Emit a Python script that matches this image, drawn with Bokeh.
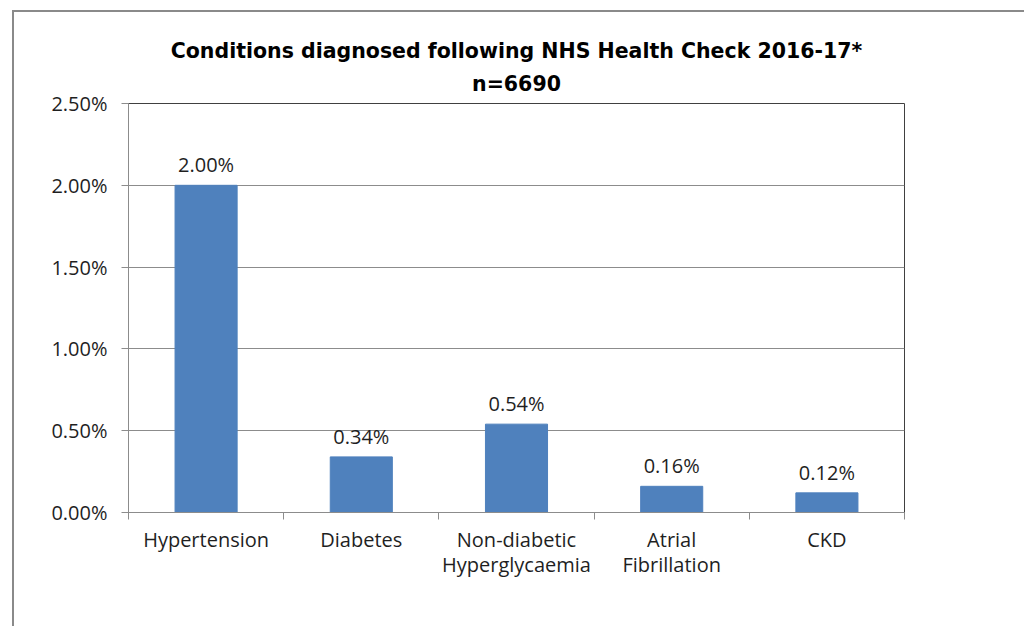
from bokeh.plotting import figure
from bokeh.models import (ColumnDataSource, Range1d, FixedTicker, NumeralTickFormatter,
                          Title, LabelSet)
from bokeh.core.properties import value
from bokeh.embed import file_html
from bokeh.resources import INLINE

categories = ["Hypertension", "Diabetes", "Non-diabetic\nHyperglycaemia", "Atrial\nFibrillation", "CKD"]
values = [0.0200, 0.0034, 0.0054, 0.0016, 0.0012]
value_labels = ["2.00%", "0.34%", "0.54%", "0.16%", "0.12%"]
y_ticks = [0.0, 0.005, 0.010, 0.015, 0.020, 0.025]
title_line1 = "Conditions diagnosed following NHS Health Check 2016-17*"
title_line2 = "n=6690"

FONT = "Open Sans"
TFONT = "DejaVu Sans"
BLUE = "#4F81BD"
GRID = "#8C8C8C"
TXT = "#1F1F1F"

centers = [i + 0.5 for i in range(len(categories))]
src = ColumnDataSource(dict(x=centers, top=values, lab=value_labels))

p = figure(frame_width=776, frame_height=409, output_backend="svg", toolbar_location=None,
           x_range=Range1d(0, len(categories)), y_range=Range1d(0, 0.025),
           min_border_left=114, min_border_top=91, min_border_right=120, min_border_bottom=114,
           background_fill_color="white", border_fill_color="white")

# outer panel frame (left and top edges visible, as in the reference)
p.styles = {"margin-left": "12px", "margin-top": "10px",
            "border-left": "2px solid #8a8a8a", "border-top": "2px solid #8a8a8a"}

p.vbar(x="x", top="top", width=0.4, source=src, fill_color=BLUE, line_color=BLUE)

labels = LabelSet(x="x", y="top", text="lab", source=src, text_align="center",
                  text_baseline="bottom", y_offset=7, text_font=value(FONT),
                  text_font_size="20px", text_color=TXT)
p.add_layout(labels)

# titles (each line centred separately)
t2 = Title(text=title_line2, align="center", text_font=TFONT, text_font_size="20.5px",
           text_font_style="bold", text_color="#000000", text_line_height=0.9, standoff=15)
t1 = Title(text=title_line1, align="center", text_font=TFONT, text_font_size="20.5px",
           text_font_style="bold", text_color="#000000", standoff=0)
p.title = None
p.add_layout(t2, "above")
p.add_layout(t1, "above")

# axes
p.xaxis.ticker = FixedTicker(ticks=centers, minor_ticks=list(range(len(categories) + 1)))
p.xaxis.major_label_overrides = {c: lab for c, lab in zip(centers, categories)}
p.xaxis.major_tick_out = 0
p.xaxis.major_tick_in = 0
p.xaxis.minor_tick_out = 7
p.xaxis.minor_tick_in = 0
p.xaxis.minor_tick_line_color = GRID
p.xaxis.axis_line_color = GRID
p.xaxis.major_label_text_font = FONT
p.xaxis.major_label_text_font_size = "20px"
p.xaxis.major_label_text_color = TXT
p.xaxis.major_label_text_line_height = 0.95
p.xaxis.major_label_standoff = 6

p.yaxis.ticker = FixedTicker(ticks=y_ticks)
p.yaxis.formatter = NumeralTickFormatter(format="0.00%")
p.yaxis.major_tick_out = 7
p.yaxis.major_tick_in = 0
p.yaxis.minor_tick_line_color = None
p.yaxis.major_tick_line_color = GRID
p.yaxis.axis_line_color = GRID
p.yaxis.major_label_text_font = FONT
p.yaxis.major_label_text_font_size = "20px"
p.yaxis.major_label_text_color = TXT
p.yaxis.major_label_standoff = 14

p.xgrid.visible = False
p.ygrid.grid_line_color = GRID
p.ygrid.grid_line_width = 1

p.outline_line_color = "#404040"
p.outline_line_width = 1

open("out.html", "w").write(file_html(p, INLINE))
